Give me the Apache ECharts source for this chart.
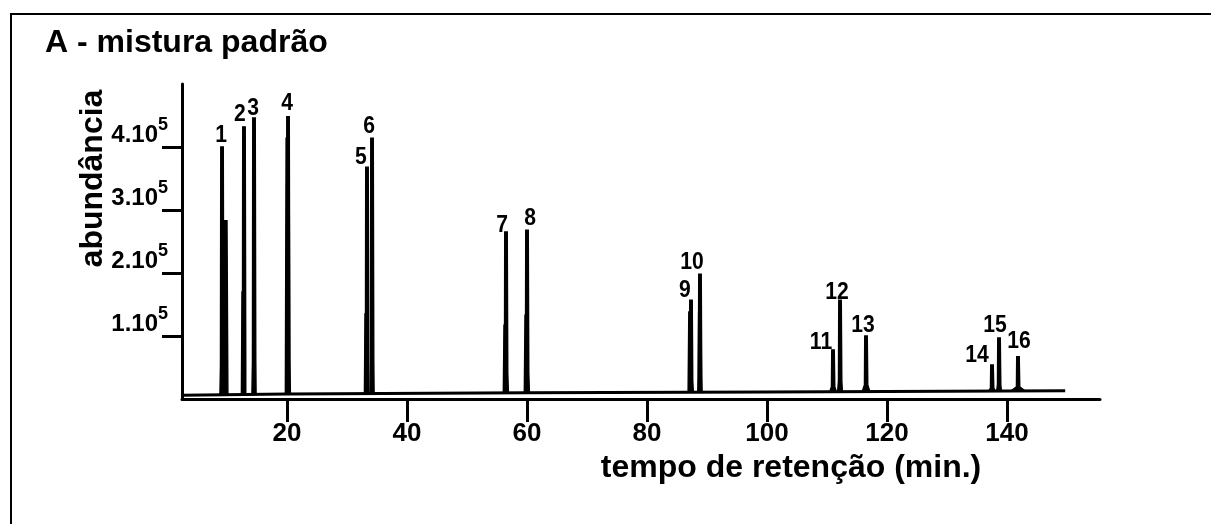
<!DOCTYPE html>
<html>
<head>
<meta charset="utf-8">
<script src="https://cdn.jsdelivr.net/npm/echarts@6/dist/echarts.min.js"></script>
<style>html,body{margin:0;padding:0;background:#fff;}#c{width:1211px;height:524px;}</style>
</head>
<body>
<div id="c"></div>
<script>
// ---- data ----
const titleText = 'A - mistura padrão';
const xAxisName = 'tempo de retenção (min.)';
const yAxisName = 'abundância';
const xTicks = [20, 40, 60, 80, 100, 120, 140];
const yTicks = [100000, 200000, 300000, 400000];
const yTickMantissa = ['1.10', '2.10', '3.10', '4.10'];
const yTickExponent = '5';

const peakLabels  = ['1','2','3','4','5','6','7','8','9','10','11','12','13','14','15','16'];
const peakTimes   = [9.17, 12.83, 14.5, 20.17, 33.33, 34.17, 56.5, 60.0, 87.33, 88.83, 111.0, 112.17, 116.5, 137.5, 138.67, 141.83];
const peakHeights = [400000, 432000, 446000, 448000, 368000, 414000, 265000, 268000, 157000, 198000, 78000, 157000, 100000, 54000, 97000, 67000];
const peakWidths  = [0.7, 0.6, 0.7, 0.8, 0.6, 0.7, 0.8, 0.8, 0.8, 0.7, 1.1, 0.8, 1.3, 1.1, 0.8, 2.4];

const shoulderTimes   = [9.7, 12.7, 20.1, 33.2, 56.4, 59.9, 87.2, 88.8];
const shoulderHeights = [283000, 170000, 414000, 135000, 117000, 133000, 138000, 138000];
const shoulderWidths  = [0.9, 0.6, 0.75, 0.6, 0.7, 0.7, 0.7, 0.6];

const baselineTimes  = [2.5, 20, 60, 100, 149.7];
const baselineValues = [6000, 8000, 10000, 11000, 13000];

// label offsets in pixels (style only)
const labelOffsets = [[-1,0],[-4,0],[-1,2],[-1,-1],[-6,2],[-3,0],[-4,5],[3,0],[-6,2],[-8,0],[-12,5],[-3,4],[-3,1],[-15,2],[-4,-1],[1,-3]];

// ---- helpers ----
function baseAt(t) {
  for (let i = 0; i < baselineTimes.length - 1; i++) {
    if (t >= baselineTimes[i] && t <= baselineTimes[i+1]) {
      const f = (t - baselineTimes[i]) / (baselineTimes[i+1] - baselineTimes[i]);
      return baselineValues[i] + f * (baselineValues[i+1] - baselineValues[i]);
    }
  }
  return baselineValues[baselineValues.length - 1];
}

const peakData = peakTimes.map((t, i) => [t, peakHeights[i], peakWidths[i], 0, i]);
const shoulderData = shoulderTimes.map((t, i) => [t, shoulderHeights[i], shoulderWidths[i], 1, -1]);
const baselineData = baselineTimes.map((t, i) => [t, baselineValues[i]]);

const BOLD = 'bold';
const SANS = "'Liberation Sans', Arial, sans-serif";

const chart = echarts.init(document.getElementById('c'), null, { renderer: 'canvas' });
chart.setOption({
  backgroundColor: '#ffffff',
  animation: false,
  title: {
    text: titleText, left: 40, top: 22,
    textStyle: { fontFamily: SANS, fontSize: 32, fontWeight: BOLD, color: '#000' }
  },
  graphic: [{
    type: 'rect', shape: { x: 11, y: 14, width: 1300, height: 600 },
    style: { fill: 'none', stroke: '#000', lineWidth: 2 }, silent: true, z: 100
  }],
  grid: { left: 182, top: 84, width: 918, height: 315 },
  xAxis: {
    type: 'value', min: 2.5, max: 155.5,
    name: xAxisName, nameLocation: 'middle', nameGap: 53, nameMoveOverlap: false,
    nameTextStyle: { fontFamily: SANS, fontSize: 32, fontWeight: BOLD, color: '#000', padding: [0, 0, 0, 300] },
    axisLine: { show: true, onZero: false, lineStyle: { color: '#000', width: 3 } },
    axisTick: { show: true, customValues: xTicks, length: 23, lineStyle: { color: '#000', width: 3 } },
    axisLabel: { customValues: xTicks, margin: 22, fontFamily: SANS, fontSize: 26, fontWeight: BOLD, color: '#000' },
    splitLine: { show: false }
  },
  yAxis: {
    type: 'value', min: 0, max: 500000,
    name: yAxisName, nameLocation: 'middle', nameGap: 73, nameRotate: 90, nameMoveOverlap: false,
    nameTextStyle: { fontFamily: SANS, fontSize: 32, fontWeight: BOLD, color: '#000', padding: [0, 0, 0, 126] },
    axisLine: { show: true, lineStyle: { color: '#000', width: 3 } },
    axisTick: { show: true, customValues: yTicks, length: 20, lineStyle: { color: '#000', width: 3 } },
    axisLabel: {
      customValues: yTicks, margin: 14, verticalAlign: 'bottom',
      formatter: function (v) {
        const i = yTicks.indexOf(v);
        return '{m|' + yTickMantissa[i] + '}{s|' + yTickExponent + '}';
      },
      rich: {
        m: { fontFamily: SANS, fontSize: 24, fontWeight: BOLD, color: '#000', lineHeight: 16, verticalAlign: 'bottom' },
        s: { fontFamily: SANS, fontSize: 18, fontWeight: BOLD, color: '#000', lineHeight: 17, verticalAlign: 'bottom', padding: [0, 0, 13, 0] }
      }
    },
    splitLine: { show: false }
  },
  series: [
    {
      type: 'line', data: baselineData, symbol: 'none',
      lineStyle: { color: '#000', width: 3 }, z: 3
    },
    {
      type: 'custom', data: peakData.concat(shoulderData), z: 4,
      renderItem: function (params, api) {
        const t = api.value(0), h = api.value(1), w = api.value(2), kind = api.value(3), idx = api.value(4);
        const b = baseAt(t);
        let pts;
        if (kind === 0) {
          const mid = b + (h - b) * 0.12;
          pts = [[t - w / 2, b], [t - 0.26, mid], [t - 0.21, h], [t + 0.21, h], [t + 0.3, mid], [t + w / 2, b]];
        } else {
          pts = [[t - w / 2, b], [t - w / 3, h], [t + w / 3, h], [t + w / 2, b]];
        }
        const children = [{
          type: 'polygon',
          shape: { points: pts.map(p => api.coord(p)) },
          style: { fill: '#000', stroke: '#000', lineWidth: 1.4 }
        }];
        if (kind === 0) {
          const top = api.coord([t, h]);
          const off = labelOffsets[idx];
          children.push({
            type: 'text',
            x: top[0] + off[0], y: top[1] + off[1],
            scaleX: 0.88,
            style: {
              text: peakLabels[idx],
              font: 'bold 24px ' + SANS,
              fill: '#000', align: 'center', verticalAlign: 'bottom'
            }
          });
        }
        return { type: 'group', children: children };
      }
    }
  ]
});
</script>
</body>
</html>
